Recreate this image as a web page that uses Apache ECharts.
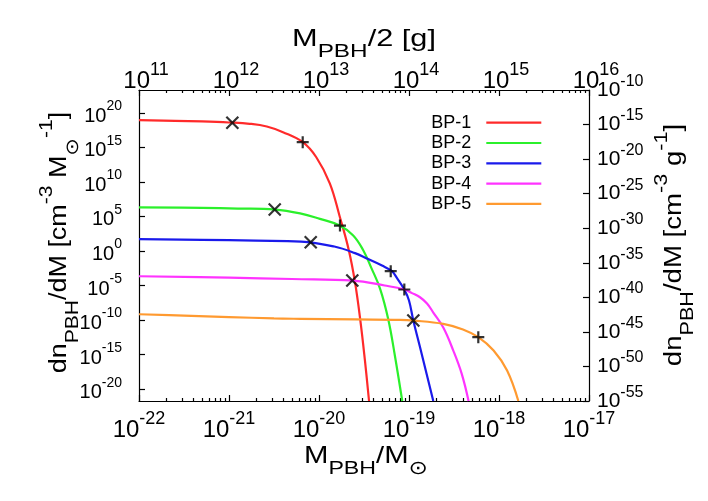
<!DOCTYPE html>
<html><head><meta charset="utf-8">
<script src="https://cdn.jsdelivr.net/npm/echarts@6/dist/echarts.min.js"></script>
<style>html,body{margin:0;padding:0;background:#fff}#c{width:708px;height:501px}</style>
</head><body><div id="c"></div>
<script>
const FONT = "'Liberation Sans', 'DejaVu Sans', Arial, sans-serif";

// ---- data (log10 values) ----
const seriesNames = ['BP-1', 'BP-2', 'BP-3', 'BP-4', 'BP-5'];
const seriesColors = ['#ff2a2a', '#2bf02b', '#1a1aeb', '#ff33ff', '#ff9a30'];

// x: log10(M_PBH / M_sun), y: log10(dn/dM [cm^-3 M_sun^-1])
const bp1LogM = [-22.0, -21.6, -21.3, -21.0, -20.77, -20.58, -20.4, -20.18, -20.03, -19.88, -19.77, -19.67, -19.6, -19.54, -19.49, -19.444];
const bp1LogN = [18.93, 18.84, 18.75, 18.6, 18.41, 18.02, 17.2, 15.75, 13.57, 9.8, 5.0, 0.2, -4.5, -10.1, -15.8, -21.7];

const bp2LogM = [-22.0, -21.3, -20.9, -20.49, -20.21, -19.99, -19.77, -19.62, -19.51, -19.42, -19.32, -19.23, -19.16, -19.075];
const bp2LogN = [6.33, 6.25, 6.15, 6.0, 5.45, 4.65, 3.69, 2.25, 0.15, -2.4, -5.5, -9.9, -14.9, -21.7];

const bp3LogM = [-22.0, -21.3, -20.7, -20.2, -19.83, -19.6, -19.46, -19.3, -19.19, -19.133, -19.052, -19.0, -18.952, -18.878, -18.804, -18.73];
const bp3LogN = [1.71, 1.62, 1.5, 1.37, 0.65, -0.3, -1.13, -2.1, -2.92, -3.92, -5.57, -7.16, -10.06, -13.9, -17.8, -21.7];

const bp4LogM = [-22.0, -21.0, -20.3, -19.62, -19.27, -19.052, -18.967, -18.878, -18.8, -18.73, -18.619, -18.508, -18.414, -18.338];
const bp4LogN = [-3.65, -3.85, -4.05, -4.27, -4.99, -5.57, -6.09, -6.69, -7.6, -8.9, -11.07, -14.4, -17.77, -21.7];

const bp5LogM = [-22.0, -21.5, -21.0, -20.5, -20.21, -19.6, -19.1, -18.95, -18.62, -18.4, -18.23, -18.06, -17.91, -17.785];
const bp5LogN = [-9.15, -9.35, -9.55, -9.75, -9.81, -9.9, -9.96, -10.06, -10.54, -11.35, -12.47, -14.4, -17.29, -21.7];

// black markers
const crossLogM = [-20.963, -20.492, -20.092, -19.63, -18.952];
const crossLogN = [18.55, 6.0, 1.27, -4.27, -10.06];
const plusLogM = [-20.181, -19.767, -19.203, -19.052, -18.23];
const plusLogN = [15.75, 3.69, -2.92, -5.57, -12.47];

// tick label exponents
const bottomTickExps = [-22, -21, -20, -19, -18, -17];
const topTickExps = [11, 12, 13, 14, 15, 16];
const leftTickExps = [-20, -15, -10, -5, 0, 5, 10, 15, 20];
const rightTickExps = [-55, -50, -45, -40, -35, -30, -25, -20, -15, -10];
const minorFactors = [2, 3, 4, 5, 6, 7, 8, 9];

// ---- build ----
function minorTicks(from, to) {
  const out = [];
  for (let d = from; d < to; d++) minorFactors.forEach(k => out.push(d + Math.log10(k)));
  return out;
}
const zip = (a, b) => a.map((v, i) => [v, b[i]]);
const curves = [[bp1LogM, bp1LogN], [bp2LogM, bp2LogN], [bp3LogM, bp3LogN], [bp4LogM, bp4LogN], [bp5LogM, bp5LogN]];

function supRich(base, sup, H) {
  return {
    b: { fontSize: base, lineHeight: H, verticalAlign: 'bottom', fontFamily: FONT, color: '#000' },
    s: { fontSize: sup, lineHeight: sup, verticalAlign: 'top', fontFamily: FONT, color: '#000' }
  };
}
const powFmt = v => '{b|10}{s|' + v + '}';
const axisLine = { show: true, onZero: false, lineStyle: { color: '#000', width: 1.2 } };
const tickStyle = { color: '#000', width: 1.2 };

const xAxes = [
  { type: 'value', position: 'bottom', min: -22, max: -17, axisLine,
    axisTick: { show: true, inside: true, length: 6, customValues: bottomTickExps, lineStyle: tickStyle },
    axisLabel: { show: true, customValues: bottomTickExps, formatter: powFmt, margin: 9, rich: supRich(24, 18, 32) },
    splitLine: { show: false } },
  { type: 'value', position: 'bottom', min: -22, max: -17, axisLine: { show: false, onZero: false },
    axisTick: { show: true, inside: true, length: 3, customValues: minorTicks(-22, -17), lineStyle: tickStyle },
    axisLabel: { show: false }, splitLine: { show: false } },
  { type: 'value', position: 'top', min: 11, max: 16, axisLine,
    axisTick: { show: true, inside: true, length: 6, customValues: topTickExps, lineStyle: tickStyle },
    axisLabel: { show: true, customValues: topTickExps, formatter: powFmt, margin: -3, padding: [0, 0, 0, 14], rich: supRich(24, 18, 32) },
    splitLine: { show: false } },
  { type: 'value', position: 'top', min: 11, max: 16, axisLine: { show: false, onZero: false },
    axisTick: { show: true, inside: true, length: 3, customValues: minorTicks(11, 16), lineStyle: tickStyle },
    axisLabel: { show: false }, splitLine: { show: false } }
];
const yAxes = [
  { type: 'value', position: 'left', min: -21.7, max: 23.3, axisLine,
    axisTick: { show: true, inside: true, length: 6, customValues: leftTickExps, lineStyle: tickStyle },
    axisLabel: { show: true, customValues: leftTickExps, formatter: powFmt, margin: 17, rich: supRich(20, 14, 27) },
    splitLine: { show: false } },
  { type: 'value', position: 'right', min: -55, max: -10, axisLine,
    axisTick: { show: true, inside: true, length: 6, customValues: rightTickExps, lineStyle: tickStyle },
    axisLabel: { show: true, customValues: rightTickExps, formatter: powFmt, margin: 8, padding: [0, 0, 6, 0], rich: supRich(21, 16, 27) },
    splitLine: { show: false } }
];

const series = curves.map((c, i) => ({
  type: 'line', name: seriesNames[i], xAxisIndex: 0, yAxisIndex: 0,
  data: zip(c[0], c[1]), showSymbol: false, symbol: 'none',
  smooth: 0.4,
  lineStyle: { color: seriesColors[i], width: 2.2 }, itemStyle: { color: seriesColors[i] },
  z: 2, silent: true
}));
const markStyle = { color: 'rgba(0,0,0,0)', borderColor: '#000', borderWidth: 2.2 };
series.push({ type: 'scatter', name: 'x-marks', xAxisIndex: 0, yAxisIndex: 0, data: zip(crossLogM, crossLogN),
  symbol: 'path://M0,0L10,10M10,0L0,10', symbolSize: 12, itemStyle: markStyle, z: 5, silent: true });
series.push({ type: 'scatter', name: 'plus-marks', xAxisIndex: 0, yAxisIndex: 0, data: zip(plusLogM, plusLogN),
  symbol: 'path://M5,0L5,10M0,5L10,5', symbolSize: 12, itemStyle: markStyle, z: 5, silent: true });

function titleRich(b, s) {
  return {
    b: { fontSize: b, lineHeight: 44, verticalAlign: 'middle', fontFamily: FONT, color: '#000' },
    s: { fontSize: s, lineHeight: s, verticalAlign: 'bottom', fontFamily: FONT, color: '#000' },
    p: { fontSize: s, lineHeight: s, verticalAlign: 'top', fontFamily: FONT, color: '#000' }
  };
}
function title(text, x, y, rot, sx, b, s) {
  return { type: 'text', x, y, rotation: rot, scaleX: sx, scaleY: 1, silent: true,
    style: { text, rich: titleRich(b, s), align: 'center', verticalAlign: 'middle', fontFamily: FONT, fontSize: b, fill: '#000' } };
}

const chart = echarts.init(document.getElementById('c'), null, { renderer: 'canvas' });
chart.setOption({
  animation: false,
  backgroundColor: '#fff',
  grid: { left: 139, top: 90, width: 450, height: 311, containLabel: false, outerBoundsMode: 'none' },
  xAxis: xAxes,
  yAxis: yAxes,
  legend: {
    data: seriesNames, orient: 'vertical', right: 166.7, top: 112.7, padding: 0,
    align: 'right', icon: 'rect', itemWidth: 55, itemHeight: 2.2, itemGap: 0.3,
    textStyle: { fontSize: 18, fontFamily: FONT, color: '#000', lineHeight: 20, padding: [0, 10, 0, 0] },
    selectedMode: false
  },
  graphic: [
    title('{b|M}{s|PBH}{b|/M}{s|⊙}', 366, 456, 0, 1.22, 24, 19),
    title('{b|M}{s|PBH}{b|/2 [g]}', 364, 39.6, 0, 1.28, 24, 19),
    title('{b|dn}{s|PBH}{b|/dM [cm}{p|-3}{b| M}{s|⊙}{p|-1}{b|]}', 59.6, 242.5, Math.PI / 2, 1.17, 23, 18),
    title('{b|dn}{s|PBH}{b|/dM [cm}{p|-3}{b| g}{p|-1}{b|]}', 674.6, 245, Math.PI / 2, 1.2, 23, 18)
  ],
  series
});
</script></body></html>
